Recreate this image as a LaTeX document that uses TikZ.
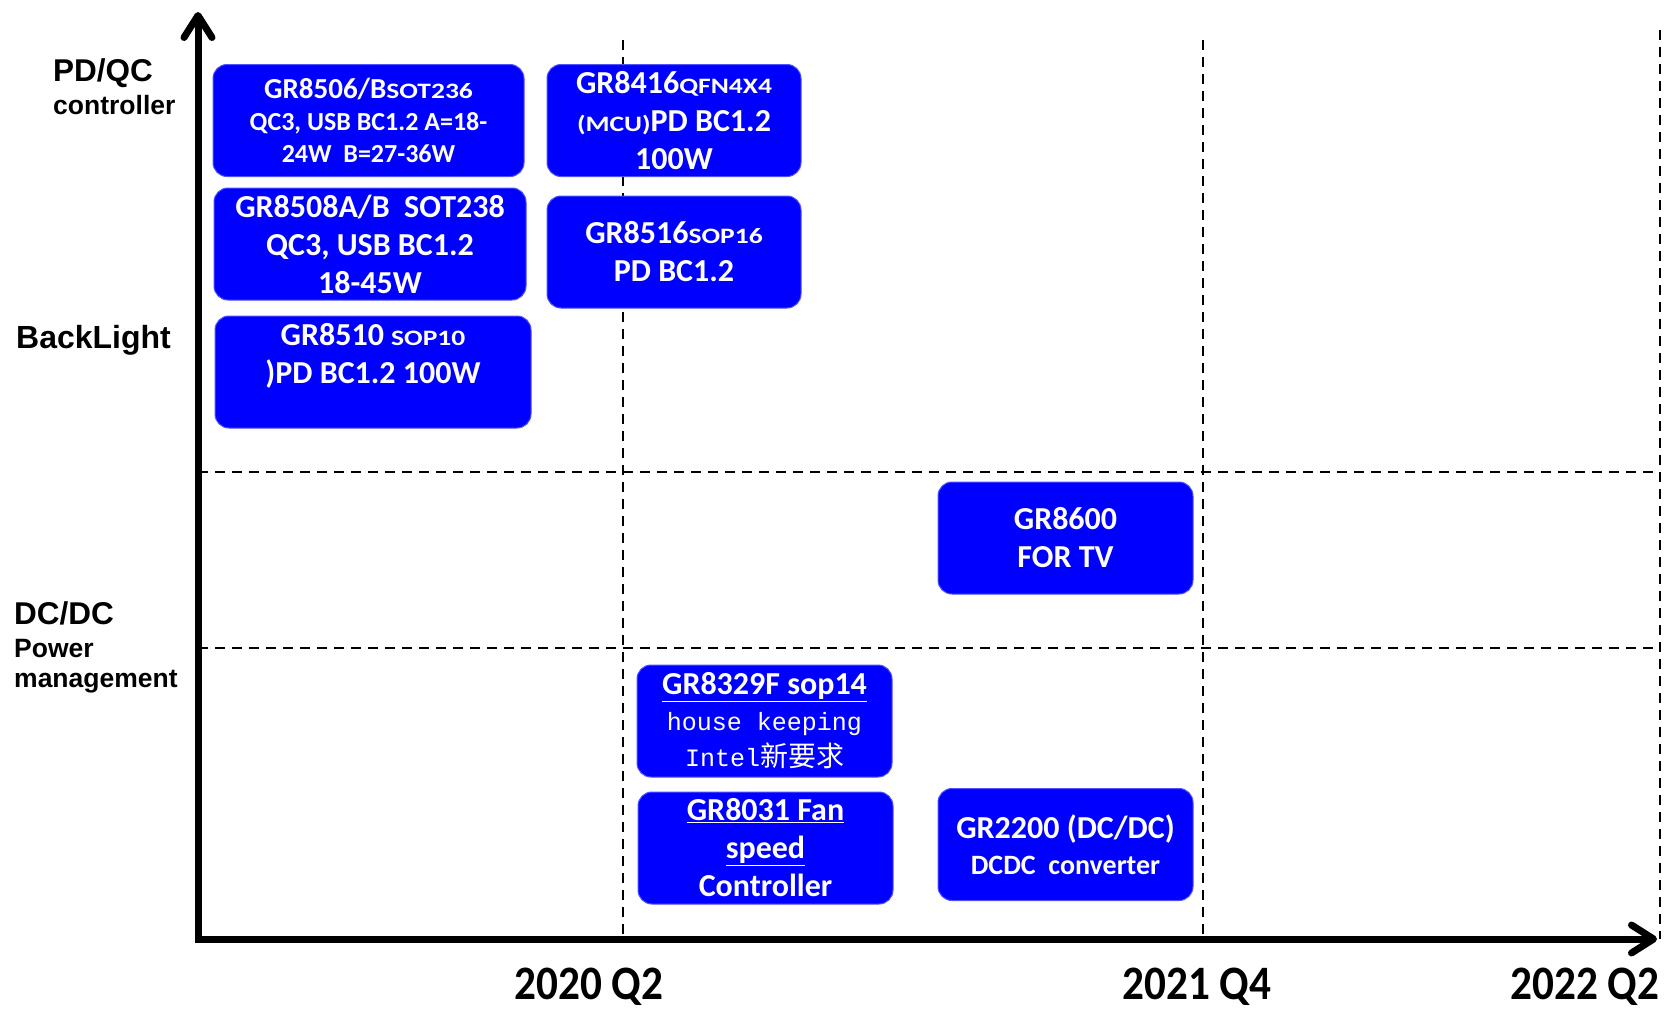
\documentclass[tikz,border=0pt]{standalone}
\usepackage{fontspec}
\setmainfont{Carlito}
\newfontfamily\arialf{Liberation Sans}
\newfontfamily\monof{Liberation Mono}
\newfontfamily\cjkf{Noto Sans CJK SC}
\usetikzlibrary{arrows.meta}
\definecolor{chipblue}{RGB}{0,0,255}
\definecolor{chipedge}{RGB}{80,80,255}
\newcommand{\smc}[1]{{\fontsize{22}{22}\selectfont\scalebox{1.25}[1]{#1}}}
\begin{document}
\begin{tikzpicture}[x=1pt,y=-1pt,
  chip/.style={draw=chipedge, line width=1pt, fill=chipblue, rounded corners=14pt, text=white, align=center, inner sep=0pt, minimum width=255pt, minimum height=112pt, font=\fontsize{32}{38}\selectfont\bfseries},
  grid/.style={line width=2.5pt, dash pattern=on 10pt off 7pt},
  axis/.style={line width=7pt, line join=miter},
  cat/.style={anchor=base west, inner sep=0pt, font=\arialf\bfseries\fontsize{31.5}{36}\selectfont},
  catsub/.style={anchor=base west, inner sep=0pt, font=\arialf\bfseries\fontsize{26.5}{30}\selectfont},
  tick/.style={anchor=base, inner sep=0pt, font=\bfseries\fontsize{48}{52}\selectfont},
  barb/.tip={Straight Barb[length=22pt,width=28pt,round]}
]
\path[use as bounding box] (0,0) rectangle (1670,1010);

% grid coordinates
\coordinate (v1t) at (623,40);   \coordinate (v1b) at (623,939);
\coordinate (v2t) at (1203,40);  \coordinate (v2b) at (1203,939);
\coordinate (v3t) at (1660,30);  \coordinate (v3b) at (1660,939);
\coordinate (h1l) at (198,472);  \coordinate (h1r) at (1660,472);
\coordinate (h2l) at (198,648);  \coordinate (h2r) at (1660,648);
\draw[grid] (v1t) -- (v1b);
\draw[grid] (v2t) -- (v2b);
\draw[grid] (v3t) -- (v3b);
\draw[grid] (h1l) -- (h1r);
\draw[grid] (h2l) -- (h2r);

% boxes
\node[chip, minimum width=311pt, minimum height=112pt, font=\fontsize{26}{32}\selectfont\bfseries] (b8506) at (368.5,120.5)
  {{\fontsize{29}{32}\selectfont GR8506/B\smc{SOT236}}\\QC3, USB BC1.2 A=18-\\24W\ \ B=27-36W};
\node[chip, minimum width=312pt] (b8508) at (370,244) {GR8508A/B\ \ SOT238\\QC3, USB BC1.2\\18-45W};
\node[chip, minimum width=316pt] (b8510) at (373,372) {GR8510 \smc{SOP10}\\)PD BC1.2 100W\\\mbox{}};
\node[chip, minimum width=254pt] (b8416) at (674,120.5) {GR8416\smc{QFN4X4}\\\smc{(MCU)}PD BC1.2\\100W};
\node[chip, minimum width=254pt] (b8516) at (674,252) {GR8516\smc{SOP16}\\PD BC1.2};
\node[chip] (b8600) at (1065.5,538) {GR8600\\FOR TV};
\node[chip, font=\fontsize{32}{36}\selectfont\bfseries] (b8329) at (764.5,721)
  {\underline{GR8329F sop14}\\{\mdseries\monof\fontsize{25}{30}\selectfont house keeping}\\{\mdseries\monof\fontsize{25}{30}\selectfont Intel}{\mdseries\cjkf\fontsize{28}{30}\selectfont 新要求}};
\node[chip] (b8031) at (765.5,848) {\underline{GR8031 Fan}\\\underline{speed}\\Controller};
\node[chip, font=\fontsize{32}{36}\selectfont\bfseries] (b2200) at (1065.5,844.5) {GR2200 (DC/DC)\\{\fontsize{28}{30}\selectfont DCDC\ \ converter}};

% category labels
\node[cat] (lpd) at (53,81) {PD/QC};
\node[catsub] (lctrl) at (53,114) {controller};
\node[cat, font=\arialf\bfseries\fontsize{32}{36}\selectfont] (lbl) at (16,348) {BackLight};
\node[cat] (ldc) at (14,624) {DC/DC};
\node[catsub] (lpow) at (14,657) {Power};
\node[catsub] (lman) at (14,687) {management};

% axes
\coordinate (O) at (198,939);
\coordinate (ytip) at (198,12);
\coordinate (xtip) at (1657,939);
\draw[axis, barb-barb] (ytip) -- (O) -- (xtip);

% time labels
\node[tick] (t1) at (589,999) {\scalebox{0.9}[1]{2020 Q2}};
\node[tick] (t2) at (1197,999) {\scalebox{0.9}[1]{2021 Q4}};
\node[tick] (t3) at (1585,999) {\scalebox{0.9}[1]{2022 Q2}};
\end{tikzpicture}
\end{document}
